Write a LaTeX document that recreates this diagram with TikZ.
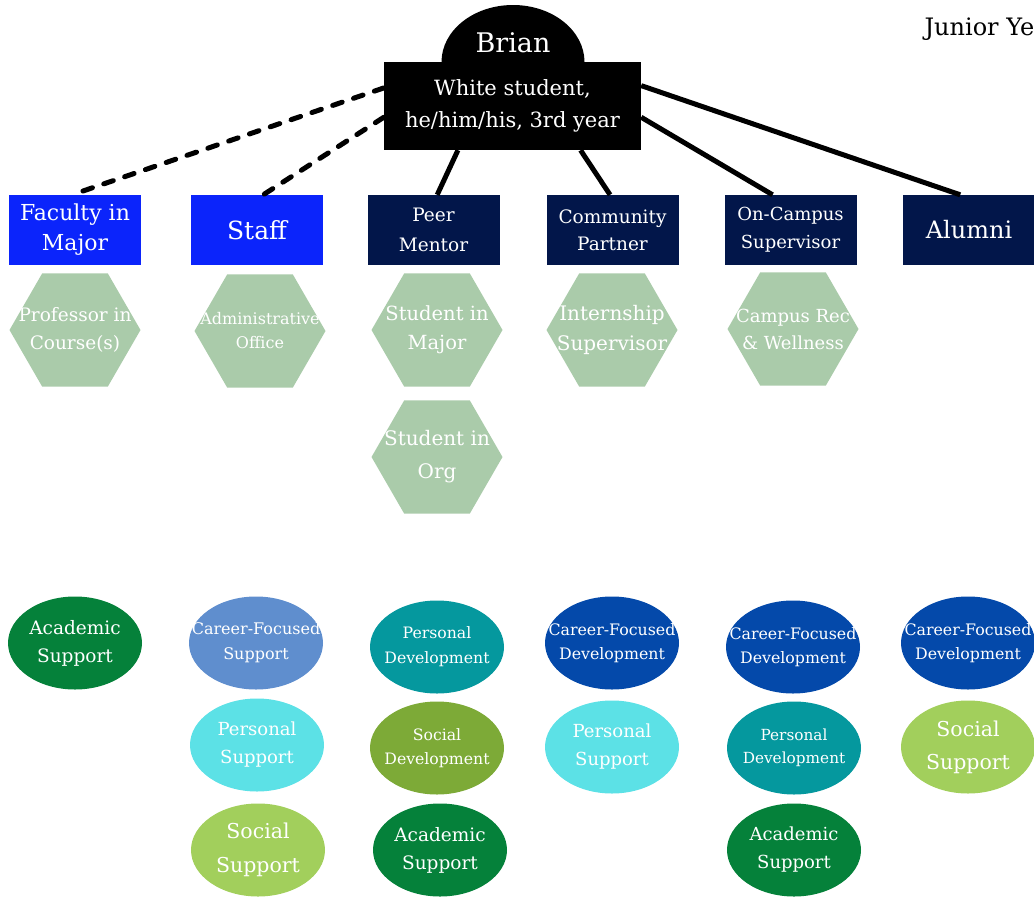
\documentclass[tikz,border=0pt]{standalone}
\usepackage{fontspec}
\setmainfont{DejaVu Serif}
\usetikzlibrary{shapes.geometric}
\definecolor{cFaculty}  {HTML}{0B24FB}
\definecolor{cNavy}     {HTML}{02164A}
\definecolor{cSage}     {HTML}{AACBAA}
\definecolor{cAcad}     {HTML}{05813A}
\definecolor{cCareerSup}{HTML}{5F8ECE}
\definecolor{cCareerDev}{HTML}{0449AA}
\definecolor{cPersSup}  {HTML}{5CE1E6}
\definecolor{cPersDev}  {HTML}{05989E}
\definecolor{cSocSup}   {HTML}{A2CF5C}
\definecolor{cSocDev}   {HTML}{7DAA37}
\newcommand{\fsz}[2]{\fontsize{#1}{#2}\selectfont}

\begin{document}
\begin{tikzpicture}[x=1pt, y=-1pt,
    rolebox/.style={rectangle, minimum width=132pt, minimum height=70pt,
                    inner sep=1pt, text=white, align=center},
    hexcell/.style={regular polygon, regular polygon sides=6, minimum size=131pt,
                    inner sep=0pt, fill=cSage},
    celltext/.style={text=white, align=center},
    bubble/.style={ellipse, minimum width=134pt, minimum height=93pt, inner sep=0pt},
    tie/.style={line width=5pt},
    loosetie/.style={line width=5pt, line cap=round, dash pattern=on 10pt off 12pt}]
  \clip (0,0) rectangle (1034,898);

  % student
  \node[ellipse, fill=black, minimum width=143pt, minimum height=114pt] (dome) at (513,62) {};
  \node[fill=black, minimum width=257pt, minimum height=88pt, text=white, align=center,
        font=\fsz{21}{32}] (brianbox) at (512.5,106) {White student,\\he/him/his, 3rd year};
  \node[text=white, font=\fsz{27}{30}] (brian) at (513,43) {Brian};
  \node[anchor=west, font=\fsz{24}{28}] (year) at (921,29) {Junior Year};

  % role boxes
  \node[rolebox, fill=cFaculty, font=\fsz{22}{30}] (faculty) at (75,230) {Faculty in\\Major};
  \node[rolebox, fill=cFaculty, font=\fsz{25}{28}] (staff) at (257,230) {Staff};
  \node[rolebox, fill=cNavy, font=\fsz{18.5}{30}] (peer) at (433.5,230) {Peer\\Mentor};
  \node[rolebox, fill=cNavy, font=\fsz{18.5}{27}] (community) at (612.5,230) {Community\\Partner};
  \node[rolebox, fill=cNavy, font=\fsz{18}{28}] (oncampus) at (790.5,230) {On-Campus\\Supervisor};
  \node[rolebox, fill=cNavy, font=\fsz{24}{28}] (alumni) at (969,230) {Alumni};

  % ties to the student
  \draw[loosetie] (brianbox.172) -- (faculty.95);
  \draw[loosetie] (brianbox.185) -- (staff.80);
  \draw[tie] (brianbox.219) -- (peer.84);
  \draw[tie] (brianbox.327) -- (community.94);
  \draw[tie] (brianbox.355) -- (oncampus.117);
  \draw[tie] (brianbox.9) -- (alumni.104);

  % specific people
  \foreach \n/\x/\y/\s/\l/\t in {prof/75/330/18.5/28/{Professor in\\Course(s)},
      admin/260/331/16/24/{Administrative\\Office},
      major/437/330/19.5/29/{Student in\\Major},
      org/437/457/20/33/{Student in\\Org},
      intern/612/330/20/30/{Internship\\Supervisor},
      rec/793/329/18/27/{Campus Rec\\\& Wellness}}
    \node[hexcell, label={[celltext, font=\fsz{\s}{\l}]center:\t}] (\n) at (\x,\y) {};

  % kinds of support
  \foreach \n/\x/\y/\c/\s/\l/\t in {acadA/75/643/cAcad/18.5/28/{Academic\\Support},
      careerS/256/643/cCareerSup/16/25/{Career-Focused\\Support},
      persS/257/745/cPersSup/18/28/{Personal\\Support},
      socS/258/850/cSocSup/20.5/34/{Social\\Support},
      persD/437/647/cPersDev/15.7/25/{Personal\\Development},
      socD/437/748/cSocDev/15.7/24/{Social\\Development},
      acadB/440/850/cAcad/18.5/28/{Academic\\Support},
      careerD/612/643/cCareerDev/15.8/24/{Career-Focused\\Development},
      persT/612/747/cPersSup/18/28/{Personal\\Support},
      careerE/793/647/cCareerDev/15.8/24/{Career-Focused\\Development},
      persE/794/748/cPersDev/15.3/23/{Personal\\Development},
      acadC/794/850/cAcad/18/28/{Academic\\Support},
      careerF/968/643/cCareerDev/15.8/24/{Career-Focused\\Development},
      socT/968/747/cSocSup/20.5/33/{Social\\Support}}
    \node[bubble, fill=\c, label={[celltext, font=\fsz{\s}{\l}]center:\t}] (\n) at (\x,\y) {};
\end{tikzpicture}
\end{document}
